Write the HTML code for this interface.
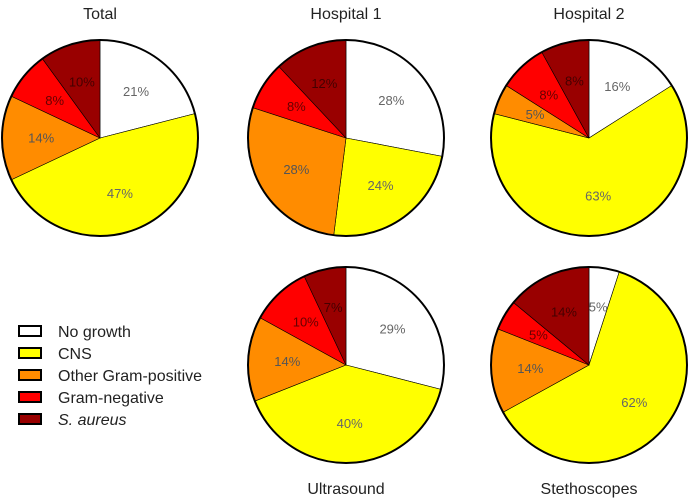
<!DOCTYPE html>
<html><head><meta charset="utf-8"><style>
body{margin:0;background:#fff;}
svg{display:block;font-family:"Liberation Sans",sans-serif;}
</style></head><body>
<svg id="chart" width="689" height="500" viewBox="0 0 689 500"></svg>
<script>
const panels = ["Total","Hospital 1","Hospital 2","Ultrasound","Stethoscopes"];
const categories = ["No growth","CNS","Other Gram-positive","Gram-negative","S. aureus"];
const totalValues = [21,47,14,8,10];
const hospital1Values = [28,24,28,8,12];
const hospital2Values = [16,63,5,8,8];
const ultrasoundValues = [29,40,14,10,7];
const stethoscopeValues = [5,62,14,5,14];
const seriesValues = [totalValues,hospital1Values,hospital2Values,ultrasoundValues,stethoscopeValues];
const colors = ["#ffffff","#ffff00","#ff8c00","#ff0000","#990000"];
const labelColors = ["#666","#666","#555","#600","#400"];
const layout = [
  {cx:100,cy:138,ty:13},
  {cx:346,cy:138,ty:13},
  {cx:589,cy:138,ty:13},
  {cx:346,cy:365,ty:488},
  {cx:589,cy:365,ty:488}
];
const R = 98;
const NS = "http://www.w3.org/2000/svg";
const svg = document.getElementById('chart');
function mk(t, attrs){const e=document.createElementNS(NS,t);for(const k in attrs)e.setAttribute(k,attrs[k]);return e;}
function pt(cx,cy,r,frac){const a=frac*2*Math.PI;return [cx+r*Math.sin(a), cy-r*Math.cos(a)];}
seriesValues.forEach((vals,pi)=>{
  const L = layout[pi];
  const g = mk('g',{});
  
  
  svg.appendChild(g);
  const sum = vals.reduce((a,b)=>a+b,0);
  let acc = 0;
  vals.forEach((v,i)=>{
    const f0 = acc/sum, f1=(acc+v)/sum;
    const p0 = pt(L.cx,L.cy,R,f0), p1 = pt(L.cx,L.cy,R,f1);
    const large = (f1-f0)>0.5?1:0;
    const path = mk('path',{d:`M${L.cx},${L.cy} L${p0[0]},${p0[1]} A${R},${R} 0 ${large} 1 ${p1[0]},${p1[1]} Z`,fill:colors[i],stroke:'#000','stroke-width':0.6});
    
    
    g.appendChild(path);
    acc += v;
  });
  const ring = mk('circle',{cx:L.cx,cy:L.cy,r:R,fill:'none',stroke:'#000','stroke-width':2});
  
  
  g.appendChild(ring);
  acc = 0;
  vals.forEach((v,i)=>{
    const fm = (acc+v/2)/sum;
    const p = pt(L.cx,L.cy,R*0.6,fm);
    const t = mk('text',{x:p[0],y:p[1]+4.5,'text-anchor':'middle','font-size':13,fill:labelColors[i]});
    t.textContent = v+'%';
    
    
    g.appendChild(t);
    acc += v;
  });
  const title = mk('text',{x:L.cx,y:L.ty+6,'text-anchor':'middle','font-size':16,fill:'#222'});
  title.textContent = panels[pi];
  
  
  svg.appendChild(title);
});
const lg = mk('g',{});


svg.appendChild(lg);
categories.forEach((c,i)=>{
  const y = 331 + i*22;
  const r = mk('rect',{x:19,y:y-5,width:22,height:10,fill:colors[i],stroke:'#000','stroke-width':2});
  
  
  lg.appendChild(r);
  const t = mk('text',{x:58,y:y+6,'font-size':16,fill:'#222'});
  if(i===4){t.innerHTML='S. <tspan font-style="italic">aureus</tspan>';t.setAttribute('font-style','italic');}
  else t.textContent = c;
  
  
  lg.appendChild(t);
});
</script>
</body></html>
